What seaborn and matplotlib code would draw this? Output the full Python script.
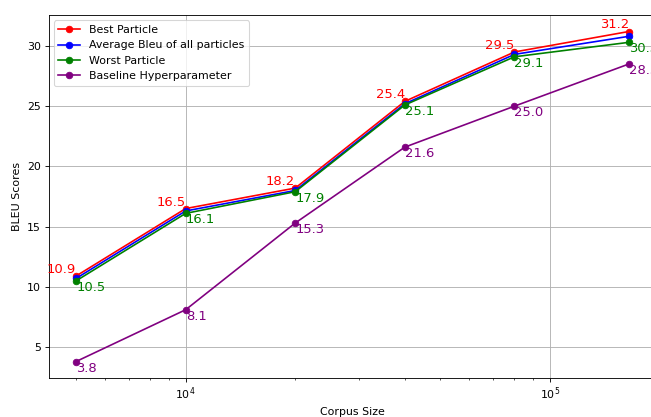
import matplotlib
matplotlib.use("Agg")
import matplotlib.pyplot as plt
import seaborn as sns
import pandas as pd

corpus_size = [5000, 10000, 20000, 40000, 80000, 165000]
best = [10.9, 16.5, 18.2, 25.4, 29.5, 31.2]
average = [10.7, 16.3, 18.0, 25.2, 29.3, 30.8]
worst = [10.5, 16.1, 17.9, 25.1, 29.1, 30.3]
baseline = [3.8, 8.1, 15.3, 21.6, 25.0, 28.5]

series = [
    ("Best Particle", best, "red"),
    ("Average Bleu of all particles", average, "blue"),
    ("Worst Particle", worst, "green"),
    ("Baseline Hyperparameter", baseline, "purple"),
]

DPI = 79
fig = plt.figure(figsize=(651 / DPI, 417 / DPI), dpi=DPI)
# axes runs a bit past the right edge, as in the cropped original
ax = fig.add_axes([48.5 / 651, 39 / 417, 608 / 651, 363 / 417])

for name, vals, color in series:
    df = pd.DataFrame({"size": corpus_size, "bleu": vals})
    sns.lineplot(data=df, x="size", y="bleu", marker="o", color=color,
                 label=name, ax=ax, markeredgecolor=color, markersize=6,
                 linewidth=1.5)

ax.set_xscale("log")

for x, y in zip(corpus_size, best):
    ax.text(x, y, f"{y}", color="red", ha="right", va="bottom", fontsize=12)
for x, y in zip(corpus_size, worst):
    ax.text(x, y, f"{y}", color="green", ha="left", va="top", fontsize=12)
for x, y in zip(corpus_size, baseline):
    ax.text(x, y, f"{y}", color="purple", ha="left", va="top", fontsize=12)

ax.grid(True, which="major", color="#b0b0b0", linewidth=0.8)
ax.set_xlabel("Corpus Size")
ax.set_ylabel("BLEU Scores")
ax.legend(loc="upper left")

fig.savefig("out.png", dpi=DPI)
